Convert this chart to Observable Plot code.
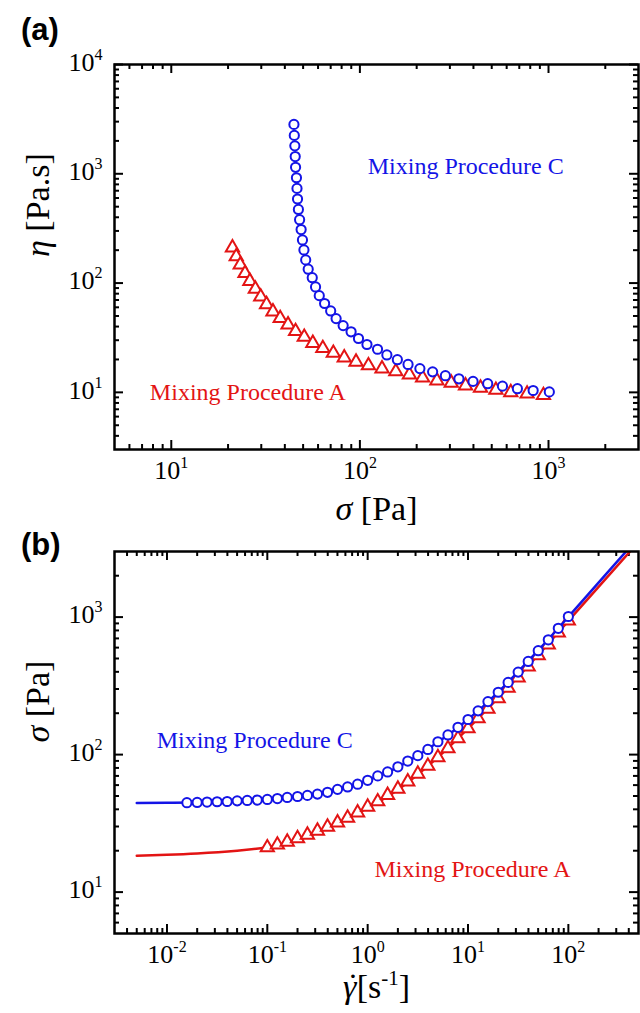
<!DOCTYPE html>
<html>
<head>
<meta charset="utf-8">
<script src="https://cdn.jsdelivr.net/npm/d3@7"></script>
<script src="https://cdn.jsdelivr.net/npm/@observablehq/plot@0.6"></script>
<style>
  html,body{margin:0;padding:0;background:#fff;}
  #wrap{position:relative;width:640px;height:1013px;overflow:hidden;background:#fff;}
  .panel{position:absolute;left:0;}
  .tag{position:absolute;left:21px;font-family:"Liberation Sans",Arial,sans-serif;font-weight:bold;font-size:31px;line-height:31px;}
</style>
</head>
<body>
<div id="wrap">
  <div id="pa" class="panel" style="top:0px"></div>
  <div id="pb" class="panel" style="top:530px"></div>
  <div class="tag" style="top:14px">(a)</div>
  <div class="tag" style="top:529px">(b)</div>
</div>
<script>
// ---------------- DATA ----------------
// Mixing procedure C: shear rate [1/s], shear stress [Pa], viscosity [Pa.s]
const rateC = [0.0158,0.0200,0.0251,0.0316,0.0398,0.0501,0.0631,0.0794,0.100,0.126,0.158,0.200,0.251,0.316,0.398,0.501,0.631,0.794,1.00,1.26,1.58,2.00,2.51,3.16,3.98,5.01,6.31,7.94,10.0,12.6,15.8,20.0,25.1,31.6,39.8,50.1,63.1,79.4,100];
const stressC = [44.7,44.9,45.2,45.4,45.6,46.1,46.4,46.7,47.2,47.9,48.8,49.6,50.5,51.6,53.2,55.9,58.2,60.9,65.0,70.0,74.8,81.5,89.8,98.3,109,124,139,158,180,208,243,284,335,398,476,570,684,829,1010];
const etaC = [2830,2245,1801,1437,1146,920,735,588,472,380,309,248,201,163,134,112,92.2,76.7,65.0,55.6,47.3,40.8,35.8,31.1,27.4,24.8,22.0,19.9,18.0,16.5,15.4,14.2,13.3,12.6,12.0,11.4,10.8,10.4,10.1];
// Mixing procedure A
const rateA = [0.100,0.126,0.158,0.200,0.251,0.316,0.398,0.501,0.631,0.794,1.00,1.26,1.58,2.00,2.51,3.16,3.98,5.01,6.31,7.94,10.0,12.6,15.8,20.0,25.1,31.6,39.8,50.1,63.1,79.4,100];
const stressA = [21.1,22.1,23.2,24.6,26.1,27.9,29.8,32.0,34.6,37.8,41.6,45.6,50.7,56.3,63.6,72.3,82.6,95.4,111,131,155,183,215,256,305,363,436,526,631,770,940];
const etaA = [211,175,147,123,104,88.3,74.9,63.9,54.8,47.6,41.6,36.2,32.1,28.2,25.3,22.9,20.8,19.0,17.6,16.5,15.5,14.5,13.6,12.8,12.2,11.5,11.0,10.5,10.0,9.70,9.40];
// Fitted model curves (panel b)
const fitRate = [0.005,0.01,0.02,0.05,0.1,0.2,0.5,1,2,5,10,20,50,100,200,500];
const fitStressC = [44.4,44.6,44.9,45.7,47.0,49.5,55.8,65,81,123,180,285,572,1005,1780,3800];
const fitStressA = [18.4,18.7,19.1,20.0,21.2,23.8,31.5,41,55.5,95.5,155,258,530,940,1660,3520];

// Ticks and tick labels (exponents of 10)
const aXMajor = [10,100,1000], aXExp = ["1","2","3"];
const aXMinor = [6,7,8,9,20,30,40,50,60,70,80,90,200,300,400,500,600,700,800,900,2000];
const aYMajor = [10,100,1000,10000], aYExp = ["1","2","3","4"];
const aYMinor = [4,5,6,7,8,9,20,30,40,50,60,70,80,90,200,300,400,500,600,700,800,900,2000,3000,4000,5000,6000,7000,8000,9000];
const bXMajor = [0.01,0.1,1,10,100], bXExp = ["-2","-1","0","1","2"];
const bXMinor = [0.004,0.005,0.006,0.007,0.008,0.009,0.02,0.03,0.04,0.05,0.06,0.07,0.08,0.09,0.2,0.3,0.4,0.5,0.6,0.7,0.8,0.9,2,3,4,5,6,7,8,9,20,30,40,50,60,70,80,90,200,300,400];
const bYMajor = [10,100,1000], bYExp = ["1","2","3"];
const bYMinor = [6,7,8,9,20,30,40,50,60,70,80,90,200,300,400,500,600,700,800,900,2000];

// Annotations (data-space anchors)
const notesA = [{x:110, y:1167, label:"Mixing Procedure C", s:"C"},{x:7.7, y:10.0, label:"Mixing Procedure A", s:"A"}];
const notesB = [{x:0.0079, y:128, label:"Mixing Procedure C", s:"C"},{x:1.17, y:14.6, label:"Mixing Procedure A", s:"A"}];

// ---------------- DRAWING ----------------
const BLUE = "#1414e6", RED = "#e31414";
const SERIF = '"Liberation Serif","Times New Roman",Times,serif';
const colorOf = s => s === "C" ? BLUE : RED;
const POW = "\u00A7";   // marker prefix for tick labels, replaced after render
const TTL = "\u00B6";   // marker prefix for axis titles

function tickMarks(xMaj, xMin, yMaj, yMin, fw, fh) {
  const M = 9, m = 5, sw = 2, out = [];
  for (const [arr, len] of [[xMaj, M], [xMin, m]]) {
    out.push(Plot.tickX(arr, {x: d => d, insetTop: fh - len, strokeWidth: sw, stroke: "black"}));
    out.push(Plot.tickX(arr, {x: d => d, insetBottom: fh - len, strokeWidth: sw, stroke: "black"}));
  }
  for (const [arr, len] of [[yMaj, M], [yMin, m]]) {
    out.push(Plot.tickY(arr, {y: d => d, insetRight: fw - len, strokeWidth: sw, stroke: "black"}));
    out.push(Plot.tickY(arr, {y: d => d, insetLeft: fw - len, strokeWidth: sw, stroke: "black"}));
  }
  return out;
}
function tickLabels(xMaj, xExp, yMaj, yExp) {
  return [
    Plot.text(xMaj, {x: d => d, text: (d, i) => POW + xExp[i], frameAnchor: "bottom", dy: 29, fontSize: 26, fill: "black"}),
    Plot.text(yMaj, {y: d => d, text: (d, i) => POW + yExp[i], frameAnchor: "left", dx: -12, dy: -2, textAnchor: "end", fontSize: 26, fill: "black"})
  ];
}
function finish(svg, titles) {
  d3.select(svg).selectAll("text").each(function() {
    const t = d3.select(this), c = t.text();
    if (c.startsWith(POW)) {
      t.text(null);
      t.append("tspan").text("10");
      t.append("tspan").attr("font-size", 16).attr("dy", -11).text(c.slice(1));
    } else if (c.startsWith(TTL)) {
      const segs = titles[c.slice(1)];
      t.text(null);
      for (const sg of segs) {
        const ts = t.append("tspan").text(sg.t);
        if (sg.it) ts.attr("font-style", "italic");
        if (sg.dx) ts.attr("dx", sg.dx);
        if (sg.dy) ts.attr("dy", sg.dy);
        if (sg.fs) ts.attr("font-size", sg.fs);
      }
    }
  });
  return svg;
}

// Panel (a)
const FWa = 524, FHa = 385;
const svgA = Plot.plot({
  width: 640, height: 530, marginTop: 64, marginBottom: 81, marginLeft: 114, marginRight: 2,
  x: {type: "log", domain: [5, 3000], axis: null},
  y: {type: "log", domain: [3, 10000], axis: null},
  style: {fontFamily: SERIF, background: "transparent", overflow: "visible"},
  marks: [
    ...tickMarks(aXMajor, aXMinor, aYMajor, aYMinor, FWa, FHa),
    Plot.dot(stressA.map((s, i) => ({s, e: etaA[i]})), {x: "s", y: "e", symbol: "triangle", r: 4.9, stroke: RED, strokeWidth: 2, fill: "white"}),
    Plot.dot(stressC.map((s, i) => ({s, e: etaC[i]})), {x: "s", y: "e", symbol: "circle", r: 4.6, stroke: BLUE, strokeWidth: 2, fill: "white"}),
    Plot.text(notesA, {x: "x", y: "y", text: "label", fill: d => colorOf(d.s), textAnchor: "start", fontSize: 24}),
    Plot.frame({stroke: "black", strokeWidth: 2.5}),
    ...tickLabels(aXMajor, aXExp, aYMajor, aYExp),
    Plot.text([TTL + "eta"], {text: d => d, frameAnchor: "left", dx: -76, rotate: -90, fontSize: 34, fill: "black"}),
    Plot.text([TTL + "sigma"], {text: d => d, frameAnchor: "bottom", dy: 70, fontSize: 34, fill: "black"})
  ]
});
finish(svgA, {
  eta: [{t: "η", it: true}, {t: " [Pa.s]"}],
  sigma: [{t: "σ", it: true}, {t: " [Pa]"}]
});
document.getElementById("pa").appendChild(svgA);

// Panel (b)
const FWb = 524, FHb = 382;
const svgB = Plot.plot({
  width: 640, height: 483, marginTop: 21, marginBottom: 80, marginLeft: 114, marginRight: 2,
  x: {type: "log", domain: [0.003, 500], axis: null},
  y: {type: "log", domain: [5, 3000], axis: null},
  style: {fontFamily: SERIF, background: "transparent", overflow: "visible"},
  marks: [
    ...tickMarks(bXMajor, bXMinor, bYMajor, bYMinor, FWb, FHb),
    Plot.line(fitRate.map((r, i) => ({r, s: fitStressA[i]})), {x: "r", y: "s", stroke: RED, strokeWidth: 2.5, curve: "natural", clip: true}),
    Plot.dot(rateA.map((r, i) => ({r, s: stressA[i]})), {x: "r", y: "s", symbol: "triangle", r: 4.9, stroke: RED, strokeWidth: 2, fill: "white"}),
    Plot.line(fitRate.map((r, i) => ({r, s: fitStressC[i]})), {x: "r", y: "s", stroke: BLUE, strokeWidth: 2.5, curve: "natural", clip: true}),
    Plot.dot(rateC.map((r, i) => ({r, s: stressC[i]})), {x: "r", y: "s", symbol: "circle", r: 4.6, stroke: BLUE, strokeWidth: 2, fill: "white"}),
    Plot.text(notesB, {x: "x", y: "y", text: "label", fill: d => colorOf(d.s), textAnchor: "start", fontSize: 24}),
    Plot.frame({stroke: "black", strokeWidth: 2.5}),
    ...tickLabels(bXMajor, bXExp, bYMajor, bYExp),
    Plot.text([TTL + "sigma"], {text: d => d, frameAnchor: "left", dx: -76, rotate: -90, fontSize: 34, fill: "black"}),
    Plot.text([TTL + "rate"], {text: d => d, frameAnchor: "bottom", dy: 64, fontSize: 34, fill: "black"})
  ]
});
finish(svgB, {
  sigma: [{t: "σ", it: true}, {t: " [Pa]"}],
  rate: [{t: "γ", it: true}, {t: "\u02D9", dx: -9, dy: -1}, {t: "[s", dx: -2, dy: 1}, {t: "-1", fs: 21, dy: -13}, {t: "]", dy: 13}]
});
document.getElementById("pb").appendChild(svgB);
</script>
</body>
</html>
